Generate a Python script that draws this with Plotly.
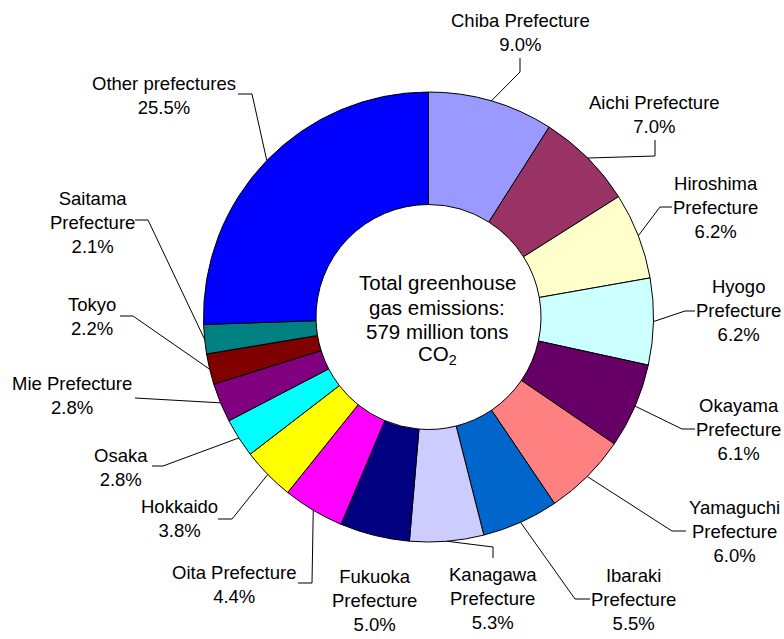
import math
import plotly.graph_objects as go

# ---- data ----
CATEGORIES = ["Chiba Prefecture", "Aichi Prefecture", "Hiroshima Prefecture", "Hyogo Prefecture",
              "Okayama Prefecture", "Yamaguchi Prefecture", "Ibaraki Prefecture", "Kanagawa Prefecture",
              "Fukuoka Prefecture", "Oita Prefecture", "Hokkaido", "Osaka", "Mie Prefecture",
              "Tokyo", "Saitama Prefecture", "Other prefectures"]
VALUES = [9.0, 7.0, 6.2, 6.2, 6.1, 6.0, 5.5, 5.3, 5.0, 4.4, 3.8, 2.8, 2.8, 2.2, 2.1, 25.5]
LABEL_LINES = ["Chiba Prefecture", "Aichi Prefecture", "Hiroshima<br>Prefecture", "Hyogo<br>Prefecture",
               "Okayama<br>Prefecture", "Yamaguchi<br>Prefecture", "Ibaraki<br>Prefecture",
               "Kanagawa<br>Prefecture", "Fukuoka<br>Prefecture", "Oita Prefecture", "Hokkaido", "Osaka",
               "Mie Prefecture", "Tokyo", "Saitama<br>Prefecture", "Other prefectures"]
CENTER_LINES = ["Total greenhouse", "gas emissions:", "579 million tons", "CO<sub>2</sub>"]
COLORS = ["#9999FF", "#993366", "#FFFFCC", "#CCFFFF", "#660066", "#FF8080", "#0066CC", "#CCCCFF",
          "#000080", "#FF00FF", "#FFFF00", "#00FFFF", "#800080", "#800000", "#008080", "#0000FF"]

# ---- layout (pixels) ----
W, H = 784, 639
CX, CY, R = 428.5, 317, 225
HOLE = 0.5
# label block centres (px)
LABEL_POS = [(520, 32), (654, 114), (715, 207), (738, 311), (738, 429), (734, 531), (633, 599),
             (493, 598), (374, 600), (234, 584), (179, 518), (121, 467), (72, 396), (92, 316),
             (92, 222), (164, 95)]
# leader line: (elbow, end near label) or None
LEADERS = [((520, 72), (520, 58)), ((655, 156), (655, 140)), ((660, 207), (672, 207)),
           ((685, 311), (695, 311)), ((682, 429), (695, 429)), ((672, 531), (686, 531)),
           ((575, 599), (590, 599)), ((493, 547), (493, 558)), None,
           ((312, 583), (298, 583)), ((232, 519), (218, 519)), ((163, 466), (152, 466)),
           ((135, 398), (135, 398)), ((133, 316), (120, 316)), ((148, 220), (135, 220)),
           ((252, 94), (238, 94))]
CENTER_X = 437
CENTER_Y = [283, 307, 332, 355]

FONT = "Liberation Sans, Arial, sans-serif"


def px(x):
    return x / W


def py(y):
    return 1 - y / H


fig = go.Figure(go.Pie(
    labels=CATEGORIES, values=VALUES, sort=False, direction="clockwise", rotation=0,
    hole=HOLE, textinfo="none", hoverinfo="label+value",
    marker=dict(colors=COLORS, line=dict(color="black", width=1)),
    domain=dict(x=[px(CX - R), px(CX + R)], y=[py(CY + R), py(CY - R)]),
    showlegend=False,
))

total = sum(VALUES)
annotations = []
shapes = []
cum = 0.0
for i, v in enumerate(VALUES):
    mid = (cum + v / 2) / total * 2 * math.pi
    cum += v
    ax = CX + R * math.sin(mid)
    ay = CY - R * math.cos(mid)
    lx, ly = LABEL_POS[i]
    annotations.append(dict(
        x=px(lx), y=py(ly), xref="paper", yref="paper", showarrow=False,
        text=f"{LABEL_LINES[i]}<br>{v:.1f}%", align="center",
        xanchor="center", yanchor="middle",
        font=dict(family=FONT, size=18.5, color="black")))
    if LEADERS[i] is not None:
        (ex, ey), (tx, ty) = LEADERS[i]
        path = f"M {px(ax)},{py(ay)} L {px(ex)},{py(ey)} L {px(tx)},{py(ty)}"
        shapes.append(dict(type="path", xref="paper", yref="paper", path=path,
                           line=dict(color="black", width=1)))

for line, y in zip(CENTER_LINES, CENTER_Y):
    annotations.append(dict(
        x=px(CENTER_X), y=py(y), xref="paper", yref="paper", showarrow=False,
        text=line, align="center", xanchor="center", yanchor="middle",
        font=dict(family=FONT, size=20.5, color="black")))

fig.update_layout(
    width=W, height=H, margin=dict(l=0, r=0, t=0, b=0),
    paper_bgcolor="white", plot_bgcolor="white",
    annotations=annotations, shapes=shapes,
)

fig.write_html("out.html", config={"displayModeBar": False},
               post_script="document.body.style.margin='0';document.body.style.overflow='hidden';")
